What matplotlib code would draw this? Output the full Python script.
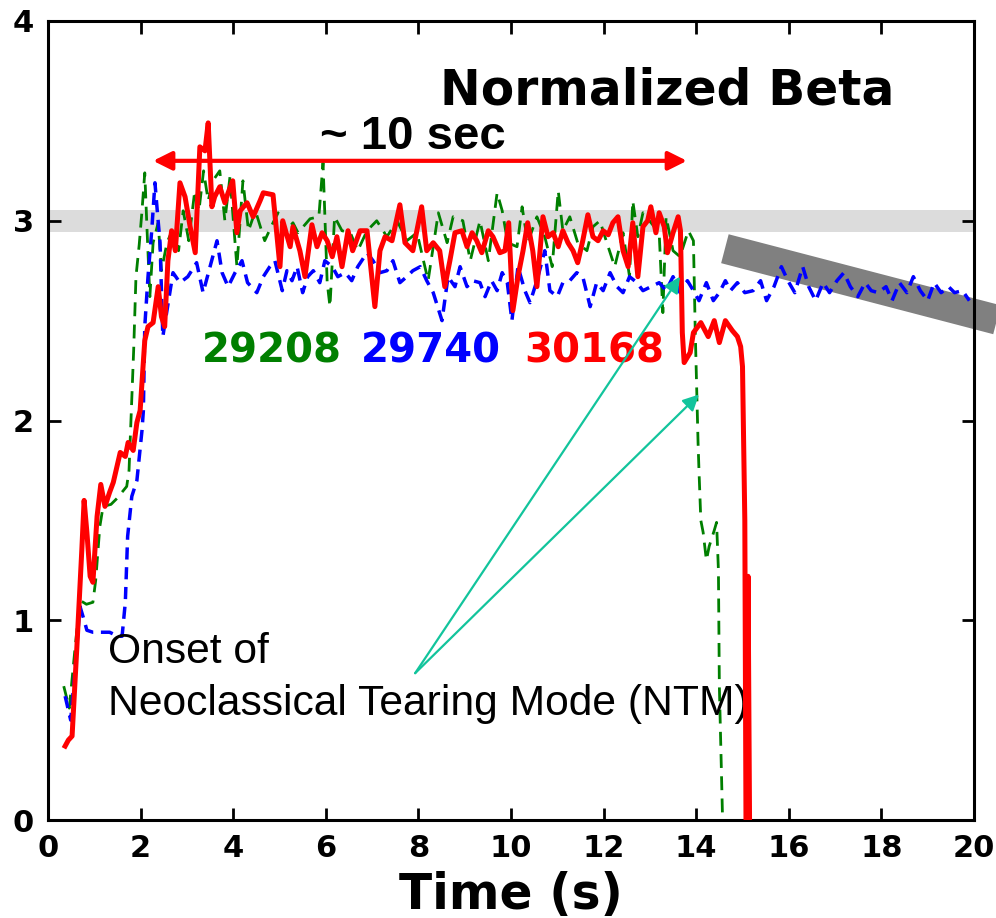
import matplotlib
matplotlib.use("Agg")
import matplotlib.pyplot as plt

# ---------------- data ----------------
t_30168 = [0.37, 0.44, 0.52, 0.62, 0.73, 0.78, 0.84, 0.91, 0.97, 1.06, 1.14, 1.23, 1.33, 1.41,
           1.56, 1.67, 1.73, 1.84, 1.92, 1.99, 2.09, 2.16, 2.27, 2.38, 2.45, 2.52, 2.59, 2.67,
           2.75, 2.85, 2.96, 3.07, 3.18, 3.28, 3.39, 3.46, 3.54, 3.60, 3.71, 3.82, 3.89, 3.99,
           4.08, 4.15, 4.30, 4.43, 4.58, 4.65, 4.86, 5.01, 5.07, 5.23, 5.29, 5.44, 5.55, 5.70,
           5.81, 5.92, 6.03, 6.14, 6.24, 6.35, 6.48, 6.58, 6.74, 6.89, 7.06, 7.17, 7.28, 7.43,
           7.60, 7.71, 7.88, 8.07, 8.18, 8.32, 8.46, 8.57, 8.68, 8.79, 8.94, 9.05, 9.16, 9.26,
           9.37, 9.51, 9.61, 9.76, 9.87, 9.95, 10.04, 10.15, 10.26, 10.36, 10.47, 10.56,
           10.69, 10.80, 10.91, 11.02, 11.12, 11.23, 11.34, 11.44, 11.55, 11.66, 11.77, 11.88,
           11.99, 12.10, 12.20, 12.31, 12.42, 12.53, 12.63, 12.74, 12.85, 12.95, 13.02, 13.13,
           13.20, 13.31, 13.38, 13.50, 13.61, 13.66, 13.70, 13.74, 13.87, 13.94, 14.10, 14.26,
           14.39, 14.50, 14.63, 14.78, 14.89, 14.96, 15.00, 15.05, 15.08, 15.12, 15.16]
b_30168 = [0.37, 0.40, 0.42, 0.85, 1.35, 1.60, 1.44, 1.22, 1.19, 1.52, 1.68, 1.57, 1.64, 1.69,
           1.84, 1.82, 1.89, 1.85, 1.99, 2.05, 2.40, 2.47, 2.49, 2.67, 2.52, 2.47, 2.80, 2.95,
           2.85, 3.19, 3.12, 2.97, 2.84, 3.37, 3.35, 3.49, 3.07, 3.12, 3.17, 3.09, 3.14, 3.20,
           2.94, 3.05, 3.09, 3.02, 3.10, 3.14, 3.13, 2.77, 3.00, 2.87, 2.97, 2.85, 2.72, 2.98,
           2.87, 2.94, 2.90, 2.82, 2.92, 2.77, 2.95, 2.85, 2.95, 2.95, 2.57, 2.85, 2.92, 2.90,
           3.08, 2.89, 2.85, 3.07, 2.85, 2.89, 2.85, 2.67, 2.80, 2.94, 2.95, 2.87, 2.94, 2.90,
           2.84, 2.95, 2.92, 2.84, 2.85, 2.99, 2.55, 2.72, 2.85, 2.99, 2.85, 2.67,
           3.02, 2.92, 2.94, 2.87, 2.95, 2.89, 2.85, 2.79, 2.90, 3.03, 2.92, 2.90,
           2.95, 2.93, 2.99, 3.02, 2.85, 2.77, 2.99, 2.72, 2.97, 3.00, 3.07, 2.94,
           3.04, 2.97, 2.84, 2.94, 3.02, 2.95, 2.44, 2.29, 2.34, 2.44, 2.49, 2.42,
           2.50, 2.39, 2.50, 2.45, 2.42, 2.37, 2.27, 1.50, -0.30, 1.22, -0.30]

t_29208 = [0.34, 0.46, 0.58, 0.69, 0.83, 0.97, 1.03, 1.12, 1.19, 1.36, 1.49, 1.70, 1.75, 1.80,
           1.85, 1.90, 1.97, 2.03, 2.09, 2.14, 2.20, 2.27, 2.38, 2.45, 2.57, 2.68, 2.82, 2.92,
           3.04, 3.17, 3.26, 3.36, 3.46, 3.56, 3.71, 3.82, 3.93, 4.08, 4.21, 4.33, 4.48, 4.68,
           4.86, 4.97, 5.12, 5.29, 5.40, 5.66, 5.85, 5.94, 6.03, 6.09, 6.19, 6.35, 6.53, 6.69,
           6.89, 7.10, 7.32, 7.54, 7.75, 7.97, 8.21, 8.43, 8.62, 8.75, 8.96, 9.12, 9.33, 9.51,
           9.70, 9.81, 9.93, 10.13, 10.24, 10.36, 10.56, 10.73, 10.89, 11.02, 11.12, 11.27,
           11.44, 11.64, 11.77, 11.92, 12.07, 12.24, 12.42, 12.56, 12.63, 12.74, 12.85, 13.20,
           13.28, 13.35, 13.50, 13.65, 13.83, 13.94, 13.98, 14.04, 14.06, 14.10, 14.15, 14.22,
           14.28, 14.39, 14.44, 14.48, 14.50, 14.57, 14.63]
b_29208 = [0.67, 0.56, 0.85, 1.10, 1.08, 1.09, 1.20, 1.47, 1.57, 1.58, 1.61, 1.67, 1.75, 2.05,
           2.35, 2.72, 2.88, 3.05, 3.24, 2.95, 2.62, 2.89, 2.99, 2.75, 2.89, 2.95, 2.85, 3.05,
           2.90, 3.15, 3.05, 3.25, 3.10, 3.20, 3.25, 3.00, 3.22, 2.77, 3.20, 2.95, 3.05, 2.90,
           2.99, 3.04, 2.94, 2.99, 2.94, 3.01, 3.02, 3.29, 2.69, 2.57, 3.02, 2.95, 2.94, 2.85,
           2.95, 3.00, 2.92, 3.00, 2.90, 2.94, 2.70, 3.04, 2.89, 3.02, 3.00, 2.80, 3.00, 2.80,
           3.14, 3.05, 2.89, 2.87, 3.07, 2.89, 3.02, 2.92, 2.77, 3.15, 2.95, 3.02,
           2.89, 2.85, 2.97, 3.00, 2.89, 2.77, 2.94, 2.72, 3.10, 2.92, 3.04, 2.94,
           2.54, 3.02, 2.85, 2.82, 2.95, 2.90, 2.44, 1.89, 1.75, 1.50, 1.44, 1.30,
           1.37, 1.45, 1.49, 1.25, 0.67, 0.00, -0.30]

t_29740 = [0.37, 0.49, 0.60, 0.69, 0.78, 0.84, 0.97, 1.12, 1.33, 1.51, 1.60, 1.67, 1.72, 1.81,
           1.92, 2.03, 2.06, 2.09, 2.16, 2.24, 2.31, 2.36, 2.42, 2.48, 2.57, 2.70, 2.85, 3.02,
           3.21, 3.35, 3.50, 3.65, 3.76, 3.89, 4.04, 4.19, 4.31, 4.51, 4.65, 4.79, 4.90, 5.06,
           5.16, 5.27, 5.38, 5.50, 5.61, 5.73, 5.87, 5.98, 6.14, 6.26, 6.42, 6.56, 6.69, 6.89,
           7.02, 7.17, 7.32, 7.45, 7.60, 7.75, 7.88, 8.04, 8.18, 8.32, 8.51, 8.64, 8.79, 8.90,
           9.05, 9.17, 9.33, 9.44, 9.58, 9.70, 9.81, 9.92, 10.02, 10.15, 10.30, 10.41, 10.56,
           10.73, 10.84, 11.00, 11.12, 11.27, 11.42, 11.55, 11.71, 11.85, 11.99, 12.14, 12.29,
           12.42, 12.56, 12.72, 12.85, 13.20, 13.35, 13.50, 13.65, 13.81, 13.94, 14.06, 14.22,
           14.37, 14.50, 14.63, 14.74, 14.89, 15.05, 15.23, 15.39, 15.52, 15.68, 15.84, 15.98,
           16.13, 16.30, 16.43, 16.58, 16.74, 16.88, 17.04, 17.19, 17.33, 17.49, 17.65, 17.78,
           17.93, 18.10, 18.23, 18.39, 18.55, 18.69, 18.84, 19.00, 19.14, 19.29, 19.45, 19.58,
           19.75, 19.90]
b_29740 = [0.62, 0.50, 0.80, 1.07, 1.00, 0.95, 0.94, 0.94, 0.94, 0.92, 0.92, 1.09, 1.42, 1.62,
           1.70, 1.95, 2.05, 2.47, 2.72, 2.95, 3.19, 3.05, 2.89, 2.42, 2.55, 2.74, 2.69, 2.72,
           2.79, 2.64, 2.77, 2.90, 2.74, 2.67, 2.74, 2.80, 2.69, 2.64, 2.72, 2.77, 2.80, 2.65,
           2.75, 2.70, 2.77, 2.64, 2.72, 2.75, 2.69, 2.80, 2.77, 2.72, 2.74, 2.70, 2.77, 2.84,
           2.80, 2.74, 2.75, 2.80, 2.69, 2.72, 2.75, 2.77, 2.70, 2.64, 2.50, 2.72, 2.67, 2.77,
           2.67, 2.70, 2.69, 2.62, 2.70, 2.65, 2.74, 2.69, 2.50, 2.77, 2.65, 2.59, 2.70,
           2.85, 2.65, 2.62, 2.69, 2.70, 2.74, 2.72, 2.57, 2.69, 2.65, 2.74, 2.67,
           2.64, 2.72, 2.69, 2.65, 2.69, 2.65, 2.72, 2.64, 2.70, 2.65, 2.60, 2.69,
           2.60, 2.64, 2.70, 2.65, 2.69, 2.64, 2.65, 2.70, 2.60, 2.67, 2.77, 2.70,
           2.64, 2.77, 2.67, 2.60, 2.69, 2.64, 2.70, 2.74, 2.67, 2.62, 2.69, 2.65,
           2.64, 2.67, 2.60, 2.69, 2.64, 2.72, 2.65, 2.60, 2.69, 2.64, 2.67, 2.64,
           2.65, 2.60]

shot_labels = ["29208", "29740", "30168"]
x_ticks = [0, 2, 4, 6, 8, 10, 12, 14, 16, 18, 20]
y_ticks = [0, 1, 2, 3, 4]

# ---------------- figure ----------------
fig = plt.figure(figsize=(9.96, 9.18), dpi=100)
ax = fig.add_axes([48 / 996, 98 / 918, 926 / 996, 799 / 918])
ax.set_xlim(0, 20)
ax.set_ylim(0, 4)

# reference band near beta_N = 3
ax.axhspan(2.945, 3.055, color="#dcdcdc", zorder=0, lw=0)

# declining gray bar (extends past the frame)
ax.plot([14.62, 20.9], [2.86, 2.48], color="#808080", lw=21.5, solid_capstyle="butt",
        clip_on=False, zorder=1)

ax.plot(t_29208, b_29208, color="#007f00", lw=2.0, dashes=(5, 3), zorder=2)
ax.plot(t_29740, b_29740, color="#0000ff", lw=2.5, dashes=(3.5, 2.2), zorder=3)
ax.plot(t_30168, b_30168, color="#ff0000", lw=3.6, zorder=4)

# ~10 sec double arrow
ax.annotate("", xy=(2.27, 3.30), xytext=(13.8, 3.30),
            arrowprops=dict(arrowstyle="<|-|>", color="#ff0000", lw=3.0,
                            mutation_scale=28, shrinkA=0, shrinkB=0), zorder=5)
ax.text(7.88, 3.36, "~ 10 sec", ha="center", va="baseline", fontsize=34,
        fontweight="bold", family="Liberation Sans")

ax.text(8.47, 3.58, "Normalized Beta", ha="left", va="baseline", fontsize=35,
        fontweight="bold", family="DejaVu Sans")

shot_x = [3.33, 6.76, 10.28]
shot_colors = ["#007f00", "#0000ff", "#ff0000"]
for lab, xs, c in zip(shot_labels, shot_x, shot_colors):
    ax.text(xs, 2.29, lab, ha="left", va="baseline", fontsize=29, fontweight="bold",
            color=c, family="DejaVu Sans")

# NTM annotation
ax.text(1.30, 0.786, "Onset of", ha="left", va="baseline", fontsize=30.7,
        family="Liberation Sans")
ax.text(1.30, 0.526, "Neoclassical Tearing Mode (NTM)", ha="left", va="baseline",
        fontsize=30.7, family="Liberation Sans")
teal = "#12c49c"
for head in [(13.65, 2.72), (14.06, 2.13)]:
    ax.annotate("", xy=head, xytext=(7.93, 0.735),
                arrowprops=dict(arrowstyle="-|>", color=teal, lw=1.6,
                                mutation_scale=24, shrinkA=0, shrinkB=0), zorder=6)

# axes styling
for s in ax.spines.values():
    s.set_linewidth(2.2)
ax.set_xticks(x_ticks)
ax.set_yticks(y_ticks)
ax.tick_params(direction="in", length=9, width=2, top=True, right=True,
               labelsize=22, pad=10)
for lbl in ax.get_xticklabels() + ax.get_yticklabels():
    lbl.set_fontweight("bold")
ax.set_xlabel("Time (s)", fontsize=35, fontweight="bold", labelpad=6)

fig.savefig("out.png", dpi=100)
